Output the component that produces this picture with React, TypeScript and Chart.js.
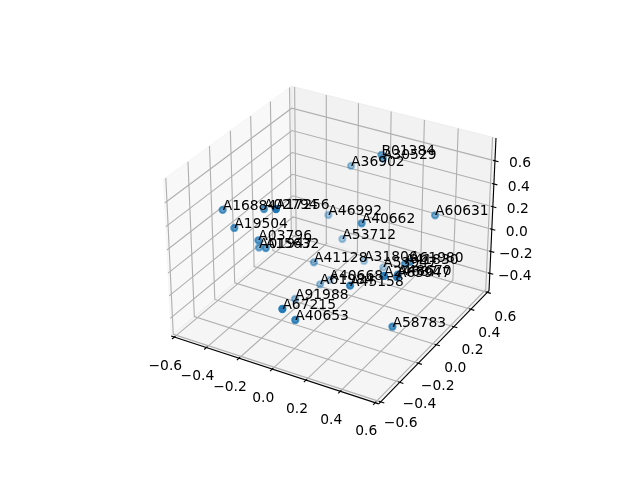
import React, { useEffect, useRef } from "react";
import { Chart, registerables } from "chart.js";

Chart.register(...registerables);

const labels = ["B01384","A30529","A36902","A16884","A02794","A17256","A46992","A40662","A60631","A19504","A53712","A03796","A01947","A15632","A41128","A31806","A53947","A24687","A65947","A48670","A61980","A41830","A61984","A40668","A45158","A91988","A67215","A40653","A58783"];
const xValues = [0.112,0.144,-0.141,-0.462,-0.279,-0.054,-0.213,0.174,0.432,-0.387,-0.115,-0.264,-0.355,-0.221,-0.119,-0.046,0.084,0.462,0.489,0.461,0.468,0.419,-0.126,-0.152,0.265,-0.190,0.064,0.068,0.473];
const yValues = [0.311,0.269,0.438,-0.334,-0.226,-0.471,0.319,-0.007,0.316,-0.344,0.300,-0.310,-0.162,-0.308,0.004,0.420,0.401,-0.291,-0.204,-0.140,-0.025,0.014,0.080,0.225,-0.286,-0.076,-0.616,-0.500,-0.213];
const zValues = [0.662,0.670,0.384,0.404,0.410,0.674,-0.001,0.318,0.263,0.287,-0.164,0.207,-0.003,0.157,-0.157,-0.425,-0.414,0.200,0.137,0.097,0.122,0.054,-0.417,-0.500,0.026,-0.459,-0.008,-0.193,-0.295];

const xTicks = [-0.6,-0.4,-0.2,0,0.2,0.4,0.6];
const yTicks = [-0.6,-0.4,-0.2,0,0.2,0.4,0.6];
const zTicks = [-0.4,-0.2,0,0.2,0.4,0.6];
const xLim = [-0.62,0.62];
const yLim = [-0.62,0.62];
const zLim = [-0.56,0.795];

// matplotlib's mplot3d camera: elev 30, azim -60, box aspect 4:4:3, dist 10
const boxX = 1.19048, boxY = 1.19048, boxZ = 0.89286;
const U = [0.866025,0.5,0];
const V = [-0.25,0.433013,0.866025];
const W = [0.433013,-0.75,0.5];
function toBox(x:number,y:number,z:number){
  return [
    ((x-(xLim[0]+xLim[1])/2)/(xLim[1]-xLim[0]))*boxX,
    ((y-(yLim[0]+yLim[1])/2)/(yLim[1]-yLim[0]))*boxY,
    ((z-(zLim[0]+zLim[1])/2)/(zLim[1]-zLim[0]))*boxZ,
  ];
}
const dot=(a:number[],b:number[])=>a[0]*b[0]+a[1]*b[1]+a[2]*b[2];
function depth(x:number,y:number,z:number){ return dot(toBox(x,y,z),W); }
function project(x:number,y:number,z:number){
  const q=toBox(x,y,z);
  const d=10-dot(q,W);
  return {x:dot(q,U)/d,y:dot(q,V)/d};
}
const [x0,x1]=xLim,[y0,y1]=yLim,[z0,z1]=zLim;

function fmt(v:number){
  const s=Math.abs(v).toFixed(1);
  return (v<0?"\u2212":"")+s;
}

function poly(pts:number[][],color:string,width:number,extra:any={}){
  return {
    data:pts.map(p=>project(p[0],p[1],p[2])),
    showLine:true,pointRadius:0,pointHoverRadius:0,borderColor:color,borderWidth:width,tension:0,
    borderCapStyle:"butt",borderJoinStyle:"miter",...extra,
  };
}

export default function App(){
  const ref=useRef<HTMLCanvasElement>(null);
  useEffect(()=>{
    const paint:any[]=[];
    // panes
    const xPane="rgba(242,242,242,0.5)",yPane="rgba(230,230,230,0.5)",zPane="rgba(236,236,236,0.5)";
    paint.push(poly([[x0,y0,z0],[x0,y1,z0],[x0,y1,z1],[x0,y0,z1],[x0,y0,z0]],xPane,1.11,{fill:"shape",backgroundColor:xPane}));
    paint.push(poly([[x0,y1,z0],[x1,y1,z0],[x1,y1,z1],[x0,y1,z1],[x0,y1,z0]],yPane,1.11,{fill:"shape",backgroundColor:yPane}));
    paint.push(poly([[x0,y0,z0],[x1,y0,z0],[x1,y1,z0],[x0,y1,z0],[x0,y0,z0]],zPane,1.11,{fill:"shape",backgroundColor:zPane}));
    // grid
    const grid="#b0b0b0";
    xTicks.forEach(t=>paint.push(poly([[t,y0,z0],[t,y1,z0],[t,y1,z1]],grid,1.11)));
    yTicks.forEach(t=>paint.push(poly([[x1,t,z0],[x0,t,z0],[x0,t,z1]],grid,1.11)));
    zTicks.forEach(t=>paint.push(poly([[x0,y0,t],[x0,y1,t],[x1,y1,t]],grid,1.11)));
    // axis lines
    paint.push(poly([[x0,y0,z0],[x1,y0,z0]],"#000",1.11));
    paint.push(poly([[x1,y0,z0],[x1,y1,z0]],"#000",1.11));
    paint.push(poly([[x1,y1,z0],[x1,y1,z1]],"#000",1.11));
    // tick marks: outward 0.2, inward 0.1 of a twelfth of the range
    const dx=(x1-x0)/12,dy=(y1-y0)/12;
    xTicks.forEach(t=>paint.push(poly([[t,y0+0.1*dy,z0],[t,y0-0.2*dy,z0]],"#000",1.11)));
    yTicks.forEach(t=>paint.push(poly([[x1-0.1*dx,t,z0],[x1+0.2*dx,t,z0]],"#000",1.11)));
    zTicks.forEach(t=>paint.push(poly([[x1-0.1*dx,y1,t],[x1+0.2*dx,y1,t]],"#000",1.11)));
    // scatter, with depth shading, far points first
    const depths=xValues.map((x,i)=>depth(x,yValues[i],zValues[i]));
    const dMin=Math.min(...depths),dMax=Math.max(...depths);
    const order=depths.map((_,i)=>i).sort((a,b)=>depths[a]-depths[b]);
    const colors=order.map(i=>`rgba(31,119,180,${0.3+0.7*Math.pow((depths[i]-dMin)/(dMax-dMin),1.3)})`);
    paint.push({
      data:order.map(i=>project(xValues[i],yValues[i],zValues[i])),
      showLine:false,pointRadius:3.1,pointHoverRadius:3.1,pointBorderWidth:2.08,
      pointBackgroundColor:colors,pointBorderColor:colors,
    });
    const datasets=paint.slice().reverse();

    const textPlugin={
      id:"texts",
      afterDatasetsDraw(chart:any){
        const {ctx,scales}=chart;
        const px=(p:{x:number,y:number})=>[scales.x.getPixelForValue(p.x),scales.y.getPixelForValue(p.y)];
        ctx.save();
        ctx.fillStyle="#000";
        ctx.font="13.89px 'DejaVu Sans'";
        ctx.textAlign="left";ctx.textBaseline="alphabetic";
        labels.forEach((s,i)=>{
          const [a,b]=px(project(xValues[i],yValues[i],zValues[i]));
          ctx.fillText(s,a,b);
        });
        ctx.textAlign="center";ctx.textBaseline="middle";
        xTicks.forEach(t=>{const [a,b]=px(project(t,y0,z0));ctx.fillText(fmt(t),a-9,b+29);});
        yTicks.forEach(t=>{
          const f=(t-yTicks[0])/(yTicks[yTicks.length-1]-yTicks[0]);
          const [a,b]=px(project(x1,t,z0));
          ctx.fillText(fmt(t),a+20-2*f,b+22+3*f);
        });
        zTicks.forEach(t=>{const [a,b]=px(project(x1,y1,t));ctx.fillText(fmt(t),a+25,b+3);});
        ctx.restore();
      },
    };

    const chart=new Chart(ref.current as HTMLCanvasElement,{
      type:"scatter",
      data:{datasets},
      options:{
        animation:false,responsive:false,devicePixelRatio:1,events:[],
        layout:{padding:0,autoPadding:false},
        plugins:{legend:{display:false},tooltip:{enabled:false},title:{display:false}},
        scales:{
          x:{type:"linear",display:false,min:-0.16668,max:0.15367},
          y:{type:"linear",display:false,min:-0.12143,max:0.11883},
        },
      },
      plugins:[textPlugin],
    } as any);
    return ()=>chart.destroy();
  },[]);
  return <canvas ref={ref} width={640} height={480} style={{position:"absolute",left:0,top:0,display:"block"}}/>;
}
